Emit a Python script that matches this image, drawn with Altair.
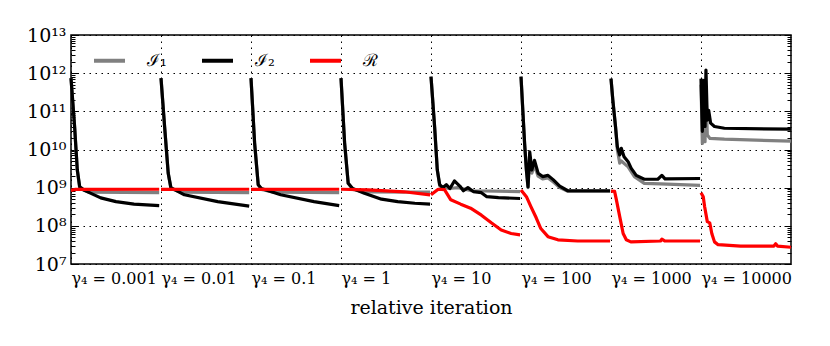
import altair as alt
import pandas as pd

SERIES = ["ℐ₁", "ℐ₂", "ℛ"]
COLORS = ["#808080", "#000000", "#ff0000"]
GAMMA_LABELS = ["γ₄ = 0.001", "γ₄ = 0.01", "γ₄ = 0.1", "γ₄ = 1",
                "γ₄ = 10", "γ₄ = 100", "γ₄ = 1000", "γ₄ = 10000"]
Y_TICKS = [1e7, 1e8, 1e9, 1e10, 1e11, 1e12, 1e13]
Y_LABELS = ["10⁷", "10⁸", "10⁹", "10¹⁰", "10¹¹", "10¹²", "10¹³"]
MINOR_MANTISSA = [2, 3, 4, 5, 6, 7, 8, 9]

# (relative position inside segment, value) for each of the 8 gamma segments
I1_SEGS = [
    [(0, 7.4e11), (0.04, 4.0e10), (0.07, 2.9e9), (0.097, 9.5e8), (0.2, 7.6e8), (0.98, 7.4e8)],
    [(0, 7.4e11), (0.04, 4.0e10), (0.08, 2.4e9), (0.11, 9.5e8), (0.22, 7.6e8), (0.98, 7.4e8)],
    [(0, 7.4e11), (0.04, 1.5e10), (0.08, 1.2e9), (0.115, 9.0e8), (0.25, 7.6e8), (0.98, 7.4e8)],
    [(0, 7.4e11), (0.04, 1.5e10), (0.08, 1.3e9), (0.13, 9.0e8), (0.25, 7.8e8), (0.99, 7.6e8)],
    [(0, 8.1e11), (0.04, 4.0e10), (0.07, 2.9e9), (0.097, 1.1e9), (0.2, 9.5e8), (0.3, 1.0e9),
     (0.45, 8.3e8), (0.99, 7.9e8)],
    [(0, 8.1e11), (0.02, 1.07e11), (0.04, 1.45e10), (0.06, 2.9e9), (0.078, 1.0e9), (0.097, 6.5e9),
     (0.12, 2.4e9), (0.15, 3.8e9), (0.19, 2.0e9), (0.24, 1.7e9), (0.3, 1.8e9), (0.36, 1.4e9),
     (0.43, 1.0e9), (0.52, 8.0e8), (0.99, 8.0e8)],
    [(0, 7.2e11), (0.02, 2.0e11), (0.05, 4.0e10), (0.07, 1.0e10), (0.097, 4.4e9), (0.115, 5.0e9),
     (0.19, 3.5e9), (0.26, 1.95e9), (0.37, 1.3e9), (0.55, 1.25e9), (0.99, 1.15e9)],
    [(0, 5.0e11), (0.015, 1.45e10), (0.03, 2.0e11), (0.045, 1.6e10), (0.055, 4.0e11),
     (0.07, 2.4e10), (0.1, 1.95e10), (0.26, 1.86e10), (1.0, 1.66e10)],
]
I2_SEGS = [
    [(0, 7.4e11), (0.04, 4.0e10), (0.07, 2.9e9), (0.097, 1.05e9), (0.15, 8.5e8), (0.33, 5.4e8),
     (0.5, 4.3e8), (0.7, 3.7e8), (0.98, 3.4e8)],
    [(0, 7.4e11), (0.04, 4.0e10), (0.08, 2.4e9), (0.11, 1.0e9), (0.26, 6.5e8), (0.63, 4.3e8),
     (0.98, 3.3e8)],
    [(0, 7.4e11), (0.04, 1.5e10), (0.08, 1.2e9), (0.115, 9.5e8), (0.33, 6.5e8), (0.7, 4.3e8),
     (0.98, 3.4e8)],
    [(0, 7.4e11), (0.04, 1.5e10), (0.08, 1.3e9), (0.13, 9.5e8), (0.26, 7.1e8), (0.45, 5.0e8),
     (0.63, 4.3e8), (0.82, 3.9e8), (0.99, 3.7e8)],
    [(0, 8.1e11), (0.04, 4.0e10), (0.07, 2.9e9), (0.097, 1.2e9), (0.13, 1.0e9), (0.17, 1.2e9),
     (0.21, 9.5e8), (0.26, 1.5e9), (0.32, 1.1e9), (0.36, 8.3e8), (0.41, 1.0e9), (0.47, 7.9e8),
     (0.56, 7.4e8), (0.62, 5.8e8), (0.75, 5.5e8), (0.99, 5.2e8)],
    [(0, 8.1e11), (0.02, 1.07e11), (0.04, 1.45e10), (0.06, 2.9e9), (0.078, 1.05e9), (0.097, 8.7e9),
     (0.12, 2.9e9), (0.15, 5.2e9), (0.19, 2.4e9), (0.24, 1.95e9), (0.3, 2.1e9), (0.36, 1.6e9),
     (0.43, 1.1e9), (0.52, 8.3e8), (0.99, 8.3e8)],
    [(0, 7.2e11), (0.02, 2.0e11), (0.05, 4.0e10), (0.07, 1.2e10), (0.097, 7.2e9), (0.115, 1.07e10),
     (0.145, 6.5e9), (0.19, 4.8e9), (0.225, 3.2e9), (0.28, 2.1e9), (0.37, 1.66e9), (0.52, 1.66e9),
     (0.565, 2.1e9), (0.6, 1.7e9), (0.99, 1.74e9)],
    [(0, 7.2e11), (0.015, 3.0e10), (0.03, 6.5e11), (0.045, 4.0e10), (0.055, 1.2e12),
     (0.07, 5.9e10), (0.085, 1.07e11), (0.107, 4.9e10), (0.15, 4.0e10), (0.26, 3.6e10),
     (1.0, 3.4e10)],
]
R_SEGS = [
    [(0, 8.5e8), (0.05, 9.0e8), (0.98, 9.1e8)],
    [(0, 9.0e8), (0.98, 9.1e8)],
    [(0, 9.0e8), (0.98, 9.1e8)],
    [(0, 9.1e8), (0.3, 8.8e8), (0.7, 7.8e8), (0.99, 6.5e8)],
    [(0, 6.5e8), (0.08, 9.1e8), (0.15, 8.9e8), (0.22, 4.8e8), (0.33, 3.7e8), (0.44, 2.9e8),
     (0.56, 1.9e8), (0.67, 1.2e8), (0.78, 7.8e7), (0.89, 6.3e7), (0.99, 5.8e7)],
    [(0, 8.7e8), (0.06, 5.8e8), (0.11, 3.2e8), (0.17, 1.6e8), (0.22, 8.5e7), (0.3, 5.2e7),
     (0.41, 4.3e7), (0.63, 4.0e7), (0.99, 4.0e7)],
    [(0, 8.1e8), (0.04, 8.0e8), (0.06, 4.8e8), (0.097, 1.74e8), (0.135, 6.3e7), (0.17, 4.3e7),
     (0.22, 3.8e7), (0.55, 4.0e7), (0.565, 4.5e7), (0.6, 4.0e7), (0.99, 4.0e7)],
    [(0, 7.4e8), (0.025, 5.8e8), (0.04, 3.2e8), (0.07, 1.29e8), (0.097, 1.2e8), (0.12, 6.3e7),
     (0.15, 3.8e7), (0.19, 3.2e7), (0.44, 2.95e7), (0.81, 2.95e7), (0.83, 3.4e7), (0.85, 2.95e7),
     (1.0, 2.75e7)],
]

rows = []
for name, segs in zip(SERIES, [I1_SEGS, I2_SEGS, R_SEGS]):
    for s, pts in enumerate(segs):
        for i, (rx, v) in enumerate(pts):
            rows.append({"series": name, "seg": s, "x": s + rx, "y": v, "o": i})
df = pd.DataFrame(rows)

W, H = 720, 229
FONT = "DejaVu Serif"

xscale = alt.Scale(domain=[0, 8], nice=False, zero=False)
yscale = alt.Scale(type="log", domain=[1e7, 1e13], nice=False)
cscale = alt.Scale(domain=SERIES, range=COLORS)

label_arr = "[" + ",".join("'" + l + "'" for l in GAMMA_LABELS) + "]"
ylab_arr = "[" + ",".join("'" + l + "'" for l in Y_LABELS) + "]"
minor_vals = [m * 10 ** k for k in range(7, 13) for m in MINOR_MANTISSA]

x_axis = alt.Axis(values=list(range(8)), labelExpr=label_arr + "[round(datum.value)]",
                  labelAlign="left", labelFlush=False, labelPadding=6, ticks=False, domain=False,
                  grid=True, gridColor="black", gridDash=[1.5, 4.5], gridWidth=1, gridOpacity=1,
                  labelFont=FONT, labelFontSize=16, labelColor="black",
                  title="relative iteration", titleFont=FONT, titleFontSize=19,
                  titleFontWeight="normal", titleColor="black", titlePadding=12)
y_axis_main = alt.Axis(orient="left", values=Y_TICKS,
                       labelExpr=ylab_arr + "[round(log(datum.value)/LN10)-7]",
                       ticks=False, domain=False, labelPadding=5, labelFlush=False,
                       grid=True, gridColor="black", gridDash=[1.5, 4.5], gridWidth=1, gridOpacity=1,
                       labelFont=FONT, labelFontSize=19, labelColor="black", title=None)

legend = alt.Legend(orient="none", legendX=21, legendY=8, direction="horizontal",
                    columns=3, title=None, symbolType="stroke", symbolSize=961,
                    symbolStrokeWidth=4, labelOffset=20, columnPadding=27,
                    labelFont=FONT, labelFontSize=17, labelColor="black", padding=0)


def line_layer(name, axis_y):
    return alt.Chart(df[df.series == name]).mark_line(strokeWidth=3.2, strokeJoin="round").encode(
        x=alt.X("x:Q", scale=xscale, axis=x_axis),
        y=alt.Y("y:Q", scale=yscale, axis=axis_y),
        color=alt.Color("series:N", scale=cscale, legend=legend),
        detail="seg:N",
        order="o:Q",
    )


def tick_layer(orient, vals, size):
    return alt.Chart(df).mark_line(opacity=0).encode(
        x=alt.X("x:Q", scale=xscale, axis=x_axis),
        y=alt.Y("y:Q", scale=yscale,
                axis=alt.Axis(orient=orient, offset=-W, values=vals, labels=False, domain=False,
                              grid=False, ticks=True, tickSize=size, tickColor="black",
                              tickWidth=1, title=None)),
        detail="seg:N",
    )


chart = alt.layer(
    line_layer(SERIES[0], y_axis_main),
    line_layer(SERIES[1], None),
    line_layer(SERIES[2], None),
    tick_layer("right", Y_TICKS, 7),
    tick_layer("right", minor_vals, 4),
    tick_layer("left", Y_TICKS, 7),
    tick_layer("left", minor_vals, 4),
).resolve_scale(y="shared").resolve_axis(y="independent").properties(
    width=W, height=H,
    background="white",
    autosize=alt.AutoSizeParams(type="none"),
    padding={"left": 63, "top": 27, "right": 31, "bottom": 74},
).configure_view(stroke="black", strokeWidth=1.5)

chart.save("out.html", embed_options={"renderer": "svg", "actions": False})
